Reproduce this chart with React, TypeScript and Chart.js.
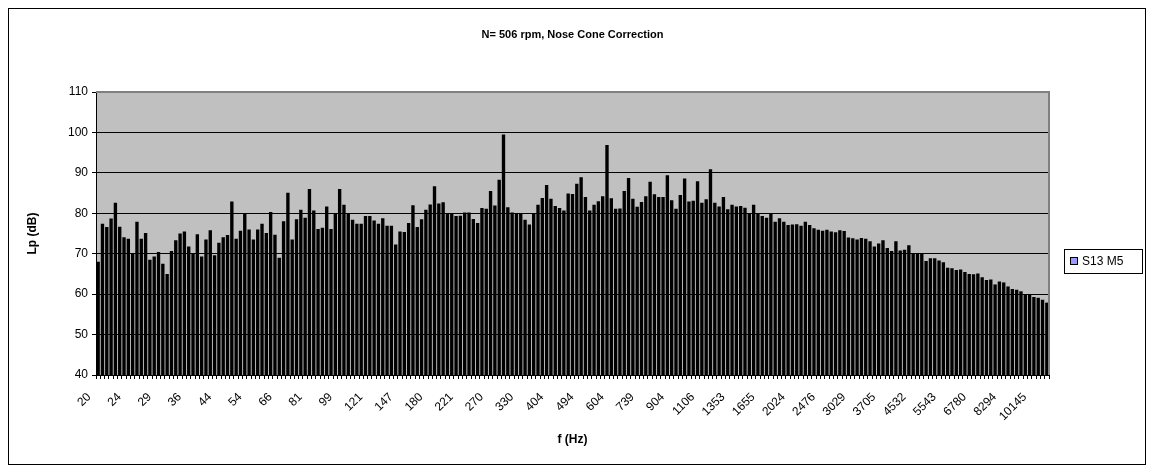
import { useEffect, useRef } from "react";
import { Chart, registerables } from "chart.js";

Chart.register(...registerables);

// 1/24-octave band centre frequencies shown on the axis (every 7th band)
const tickLabels = [
  "20", "24", "29", "36", "44", "54", "66", "81", "99", "121", "147", "180",
  "221", "270", "330", "404", "494", "604", "739", "904", "1106", "1353",
  "1655", "2024", "2476", "3029", "3705", "4532", "5543", "6780", "8294", "10145",
];

const LABEL_STEP = 7;

// Sound pressure level per band, dB
const levels = [
  68.0, 77.4, 76.6, 78.7, 82.6, 76.7, 74.1, 73.7, 70.0, 77.9, 73.7, 75.1, 68.5,
  69.3, 70.4, 67.5, 65.0, 70.7, 73.3, 75.0, 75.5, 71.8, 70.0, 74.8, 69.3, 73.5,
  75.8, 69.6, 72.7, 74.1, 74.6, 82.9, 73.7, 75.7, 80.1, 76.0, 73.5,
  76.0, 77.4, 75.1, 80.3, 74.7, 69.0, 78.0, 85.1, 73.5, 78.5, 80.9, 78.9, 86.0,
  80.7, 76.1, 76.4, 81.7, 76.1, 79.9, 86.0, 82.1, 79.9, 78.4, 77.4, 77.4, 79.3,
  79.3, 78.2, 77.4, 78.8, 76.9, 76.9, 72.3, 75.5, 75.4, 77.6, 82.0,
  76.6, 78.5, 80.9, 82.2, 86.7, 82.4, 82.7, 80.1, 79.8, 79.3, 79.4, 80.2, 80.2,
  78.6, 77.6, 81.3, 81.1, 85.5, 81.9, 88.3, 99.5, 81.5, 80.2, 80.1, 79.8, 78.4,
  77.2, 80.1, 82.1, 83.8, 87.0, 83.6, 81.8, 81.3, 80.7, 84.9, 84.8,
  87.3, 88.9, 84.0, 80.7, 82.1, 83.0, 84.2, 96.9, 83.7, 81.1, 81.2, 85.5, 88.7,
  83.6, 81.6, 82.8, 84.2, 87.8, 84.7, 84.0, 84.0, 89.4, 83.2, 81.1, 84.5, 88.6,
  82.9, 83.1, 87.9, 82.6, 83.5, 90.9, 82.6, 81.7, 84.0, 81.0, 82.1,
  81.7, 81.8, 81.4, 79.8, 82.1, 79.8, 79.3, 78.9, 79.8, 77.9, 78.8, 77.9, 77.1,
  77.2, 77.3, 76.9, 77.9, 77.1, 76.3, 75.9, 75.7, 75.9, 75.5, 75.3, 75.8, 75.6,
  74.0, 73.8, 73.5, 73.9, 73.7, 73.1, 71.8, 72.5, 73.3, 71.4, 70.7,
  73.1, 70.8, 71.0, 72.1, 70.2, 70.0, 70.2, 68.2, 68.9, 68.9, 68.3, 67.9, 66.5,
  66.4, 66.0, 66.1, 65.5, 65.0, 64.9, 65.1, 64.2, 63.5, 63.6, 62.4, 63.1, 62.9,
  61.9, 61.3, 61.1, 60.7, 60.0, 59.8, 59.3, 59.1, 58.6, 57.9,
];

const categories = levels.map((_, i) =>
  i % LABEL_STEP === 0 ? tickLabels[i / LABEL_STEP] ?? "" : ""
);

const TITLE = "N= 506 rpm, Nose Cone Correction";
const X_TITLE = "f (Hz)";
const Y_TITLE = "Lp (dB)";
const SERIES_NAME = "S13 M5";

const FONT = 'Arial, "Liberation Sans", sans-serif';

const framePlugin = {
  id: "frame",
  beforeDraw(chart: any) {
    const { ctx, chartArea: a } = chart;
    ctx.save();
    ctx.fillStyle = "#ffffff";
    ctx.fillRect(0, 0, chart.width, chart.height);
    ctx.strokeStyle = "#000000";
    ctx.lineWidth = 1;
    ctx.strokeRect(8.5, 8.5, 1137, 456);
    ctx.fillStyle = "#c0c0c0";
    ctx.fillRect(a.left, a.top, a.right - a.left, a.bottom - a.top);
    ctx.restore();
  },
  afterDraw(chart: any) {
    const { ctx, chartArea: a } = chart;
    ctx.save();
    // plot area border (top and right)
    ctx.strokeStyle = "#808080";
    ctx.lineWidth = 2;
    ctx.beginPath();
    ctx.moveTo(a.left, a.top);
    ctx.lineTo(a.right, a.top);
    ctx.lineTo(a.right, a.bottom);
    ctx.stroke();

    const cx = (a.left + a.right) / 2;
    ctx.fillStyle = "#000000";
    ctx.textAlign = "center";
    ctx.textBaseline = "middle";
    ctx.font = `bold 11px ${FONT}`;
    ctx.fillText(TITLE, cx, 35);
    ctx.font = `bold 12px ${FONT}`;
    ctx.fillText(X_TITLE, cx, 440);
    ctx.save();
    ctx.translate(33, (a.top + a.bottom) / 2);
    ctx.rotate(-Math.PI / 2);
    ctx.fillText(Y_TITLE, 0, 0);
    ctx.restore();

    // legend
    ctx.lineWidth = 1;
    ctx.strokeStyle = "#000000";
    ctx.strokeRect(1064.5, 249.5, 78, 24);
    ctx.fillStyle = "#9999ff";
    ctx.fillRect(1070.5, 257.5, 7, 7);
    ctx.strokeRect(1070.5, 257.5, 7, 7);
    ctx.fillStyle = "#000000";
    ctx.textAlign = "left";
    ctx.font = `12px ${FONT}`;
    ctx.fillText(SERIES_NAME, 1082, 261.5);
    ctx.restore();
  },
};

export default function App() {
  const canvasRef = useRef<HTMLCanvasElement | null>(null);

  useEffect(() => {
    const canvas = canvasRef.current;
    if (!canvas) return;
    Chart.defaults.font.family = FONT;
    const chart = new Chart(canvas, {
      type: "bar",
      data: {
        labels: categories,
        datasets: [
          {
            label: SERIES_NAME,
            data: levels,
            backgroundColor: "#000000",
            borderWidth: 0,
            barPercentage: 0.78,
            categoryPercentage: 1.0,
          },
        ],
      },
      options: {
        responsive: false,
        animation: false,
        devicePixelRatio: 1,
        layout: { padding: { left: 40, right: 105, top: 92, bottom: 37 } },
        plugins: {
          legend: { display: false },
          title: { display: false },
          tooltip: { enabled: false },
        },
        scales: {
          x: {
            type: "category",
            offset: true,
            grid: {
              display: true,
              offset: true,
              drawOnChartArea: false,
              drawTicks: true,
              tickLength: 4,
              color: "#000000",
              lineWidth: 1,
            },
            border: { display: true, color: "#000000", width: 1 },
            ticks: {
              autoSkip: false,
              minRotation: 45,
              maxRotation: 45,
              padding: 11,
              labelOffset: -9,
              color: "#000000",
              font: { size: 12 },
            },
            afterFit: (s: any) => {
              s.height = 60;
            },
          },
          y: {
            min: 40,
            max: 110,
            grid: {
              color: "#000000",
              lineWidth: 1,
              drawTicks: true,
              tickLength: 4,
            },
            border: { display: true, color: "#000000", width: 1 },
            ticks: {
              stepSize: 10,
              padding: 4,
              color: "#000000",
              font: { size: 12 },
            },
            afterFit: (s: any) => {
              s.width = 56;
            },
          },
        },
      },
      plugins: [framePlugin],
    });
    return () => chart.destroy();
  }, []);

  return (
    <div style={{ position: "absolute", left: 0, top: 0, width: 1154, height: 472 }}>
      <canvas ref={canvasRef} width={1154} height={472} style={{ display: "block" }} />
    </div>
  );
}
